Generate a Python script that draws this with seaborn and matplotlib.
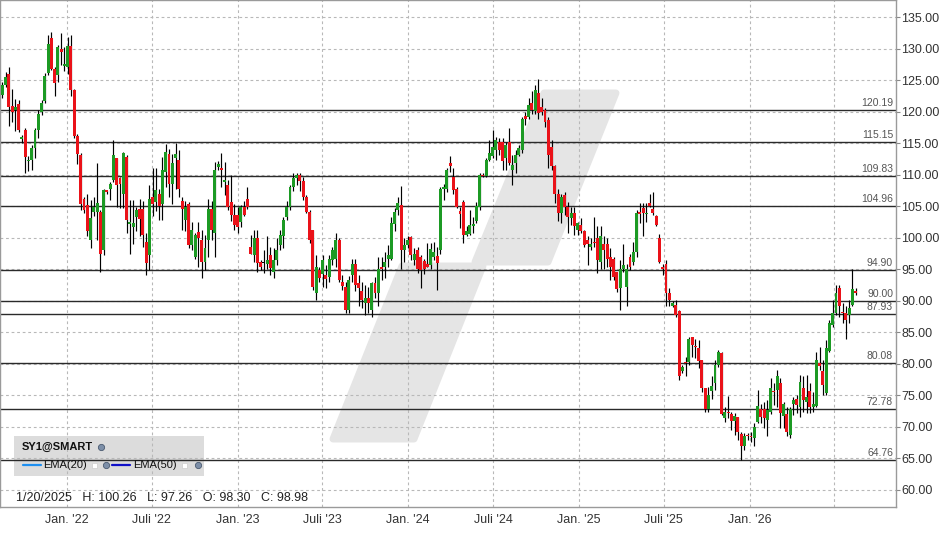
import numpy as np
import pandas as pd
import matplotlib
matplotlib.use("Agg")
import matplotlib.pyplot as plt
import matplotlib.dates as mdates
import matplotlib.transforms as mtransforms
from matplotlib.patches import Polygon, Rectangle
import seaborn as sns

# ---------------- data ----------------
start_date = "2021-08-15"   # first weekly candle

open_ = [122.7,124.2,125.9,120.9,120.2,121.2,115.7,117.1,112.2,112.4,
         114.2,117.1,120.0,121.7,126.1,131.7,126.8,125.8,130.0,127.2,
         127.1,130.4,123.4,116.2,113.1,106.2,105.2,99.6,104.1,104.1,
         104.1,98.1,107.4,107.7,109.2,112.6,109.4,107.0,112.8,102.1,
         101.7,103.3,104.6,104.6,99.4,97.3,106.5,105.6,107.0,105.4,
         110.4,113.2,108.6,112.6,112.3,105.9,102.8,105.4,98.8,97.0,
         100.9,99.6,96.2,99.6,104.6,100.7,111.2,111.0,108.8,108.3,
         105.7,103.6,103.6,102.5,104.9,106.2,98.6,97.3,99.9,96.2,
         96.0,95.8,97.3,94.6,96.5,98.8,100.2,103.3,104.9,108.1,
         109.5,109.9,109.0,106.5,104.1,
         101.2,91.3,94.9,94.3,94.1,93.8,96.5,96.7,99.6,93.0,
         92.2,88.6,94.1,95.9,92.8,91.6,89.7,90.4,88.5,92.9,
         91.2,95.4,95.4,96.7,96.7,102.2,104.4,105.2,98.0,98.9,
         100.1,96.5,98.1,97.0,96.3,95.9,95.7,97.0,97.1,
         98.1,107.7,107.8,111.8,109.6,107.8,104.3,105.7,100.4,100.6,
         101.9,102.6,104.9,109.9,109.8,112.3,112.9,113.9,115.2,115.2,
         112.6,115.2,110.7,111.8,113.1,113.9,119.3,119.2,121.3,120.1,
         122.9,120.7,120.2,118.7,114.4,111.3,107.0,
         103.9,106.8,104.9,103.1,103.9,101.2,102.0,101.0,99.6,98.5,
         99.3,99.9,96.2,99.0,99.0,96.9,96.7,94.5,92.1,95.1,
         92.2,97.0,96.2,97.8,104.1,104.7,103.8,105.5,104.5,103.4,
         99.9,95.4,95.8,91.2,89.1,89.3,
         88.4,78.8,80.3,80.3,84.2,82.8,82.5,80.6,76.1,72.8,
         75.7,77.0,79.8,81.7,71.4,72.3,72.0,71.0,71.5,68.9,
         67.0,68.6,68.5,68.2,70.8,72.8,72.8,71.1,72.4,75.7,
         75.9,77.0,
         71.7,72.0,68.7,73.7,74.4,73.2,76.1,74.0,75.7,73.2,
         73.3,80.1,78.8,75.3,82.0,86.2,88.0,92.0,88.2,88.0,
         87.8,89.3,91.4]

high = [124.7,126.3,127.0,123.6,122.0,121.8,116.3,117.4,113.0,114.7,
        117.4,120.3,121.8,126.1,132.1,132.6,127.1,130.5,132.4,130.3,
        131.9,132.1,123.6,116.5,113.5,106.4,107.0,106.0,106.5,111.8,
        104.4,107.7,107.6,108.9,115.5,112.7,109.7,113.6,113.1,106.0,
        106.0,104.9,106.2,105.9,100.7,108.3,111.0,111.0,107.8,112.8,
        114.9,114.1,113.3,115.0,113.9,106.4,105.9,105.7,102.5,100.7,
        102.5,101.2,100.4,106.2,105.9,112.0,112.2,113.4,112.0,109.1,
        110.0,105.4,104.9,105.2,105.9,108.1,100.4,101.2,101.2,96.5,
        98.1,100.2,98.6,98.3,100.0,101.3,103.3,105.9,108.3,110.2,
        110.3,110.3,109.6,106.8,104.4,
        101.2,97.3,95.4,97.3,95.7,97.3,98.6,100.7,99.9,94.1,
        93.0,93.9,96.7,96.7,94.1,93.0,92.5,92.2,93.0,93.8,
        97.0,97.0,97.8,98.8,103.3,104.7,106.5,108.2,99.9,100.2,
        100.3,98.3,98.6,97.3,96.7,99.1,99.1,99.4,98.6,
        108.1,108.6,111.0,113.0,111.0,108.1,104.8,106.0,101.8,104.4,
        103.3,105.7,110.2,110.2,112.6,115.5,117.1,116.0,115.8,115.8,
        115.2,117.4,113.1,113.9,114.7,119.2,120.0,122.1,123.2,124.2,
        125.1,122.1,120.5,119.2,115.5,111.5,107.8,
        107.0,107.3,105.7,104.9,104.8,102.5,103.1,101.2,100.2,99.9,
        103.3,101.8,101.8,100.2,99.9,98.3,97.0,94.6,96.5,99.0,
        95.9,97.5,99.4,104.4,105.5,105.5,105.5,107.0,107.3,103.6,
        100.6,95.9,96.5,92.0,89.9,90.1,
        88.5,79.8,81.1,84.3,84.3,84.0,83.8,80.6,76.1,76.4,
        78.1,80.6,82.2,81.9,73.2,74.9,72.4,72.2,71.6,69.2,
        69.0,69.0,69.2,70.6,75.9,73.7,74.0,74.3,77.7,76.9,
        79.0,77.7,
        74.0,73.2,73.2,74.8,75.1,78.2,78.0,78.2,76.9,75.6,
        81.9,82.6,80.6,83.8,86.9,90.1,92.5,92.5,89.6,89.1,
        90.1,95.0,92.1]

low = [122.1,123.9,117.7,118.4,117.0,116.8,115.0,110.3,110.6,110.8,
       112.7,115.8,119.5,121.3,125.8,126.6,122.4,124.7,127.4,126.5,
       126.0,122.5,115.8,111.7,104.4,103.9,100.2,98.3,103.5,99.6,
       94.6,97.3,107.0,106.0,108.9,104.9,104.7,104.7,100.7,97.5,
       99.0,101.1,100.2,98.6,94.1,94.9,103.4,104.3,102.8,102.8,
       108.1,106.5,105.4,107.8,106.5,101.2,101.0,98.3,98.0,96.7,
       95.4,93.6,94.9,96.9,99.6,96.9,110.7,108.1,106.7,104.4,
       102.6,101.2,100.7,101.7,103.4,104.6,97.5,96.2,94.6,94.9,
       94.4,95.0,94.1,93.6,95.7,98.0,98.3,102.8,104.4,107.4,
       108.3,107.4,106.0,103.9,99.1,
       91.7,90.1,93.0,92.2,92.0,93.0,95.7,95.4,93.0,91.7,
       88.0,88.0,93.0,91.5,89.1,88.8,87.7,88.0,87.5,90.4,
       89.1,93.3,93.6,95.4,96.5,101.0,103.6,95.1,96.2,98.3,
       96.5,95.7,94.4,92.0,94.3,95.3,95.1,96.5,91.7,
       97.5,106.0,107.3,110.5,107.0,104.7,101.5,99.1,100.2,100.4,
       100.7,102.3,104.4,109.6,109.7,112.1,112.6,112.3,113.1,110.7,
       110.7,111.5,108.4,110.2,112.9,113.4,117.9,118.9,119.7,119.7,
       118.9,119.5,117.6,111.0,110.7,105.5,102.6,
       102.3,103.6,100.7,102.0,100.4,100.4,100.7,98.6,95.7,98.0,
       98.6,94.4,95.1,95.1,95.4,93.3,93.3,91.4,88.5,94.6,
       89.1,94.9,95.7,97.0,102.3,100.2,102.5,104.8,103.6,101.8,
       96.0,94.1,89.1,89.1,89.0,87.5,
       77.4,78.5,78.0,79.8,81.1,80.9,79.3,75.6,72.4,72.3,
       74.4,75.9,79.5,71.9,70.8,71.4,69.5,68.7,67.9,64.7,
       66.3,67.9,67.6,66.9,70.6,70.6,69.9,68.5,72.1,73.5,
       73.2,69.8,
       69.8,68.5,68.2,71.9,72.2,71.6,72.4,72.2,72.2,72.4,
       73.2,79.0,75.1,75.1,81.9,85.9,87.8,87.5,86.4,84.0,
       86.4,89.1,90.9]

close = [124.2,125.5,120.7,120.0,120.8,117.1,116.0,112.8,112.4,114.2,
         117.1,119.6,121.3,125.6,130.8,126.8,124.5,130.3,129.5,127.6,
         130.4,123.4,116.2,113.2,105.4,104.4,101.0,103.1,104.9,105.5,
         97.5,107.6,107.3,108.6,113.1,108.4,108.6,113.5,102.8,102.5,
         102.4,104.4,103.0,100.4,96.0,106.2,105.4,107.5,105.0,110.8,
         113.6,108.6,111.9,113.3,107.8,104.6,104.9,98.8,101.2,100.4,
         99.9,96.2,98.3,104.6,101.2,110.7,111.7,110.8,109.1,104.9,
         103.6,102.0,101.7,104.9,103.6,104.9,97.5,99.9,96.0,95.4,
         96.0,96.4,95.2,96.5,98.0,100.4,102.8,104.9,108.1,109.5,
         110.0,109.0,106.5,104.1,99.6,
         92.2,95.4,93.6,96.4,93.5,96.7,98.0,99.6,93.3,92.3,
         88.6,93.3,95.8,92.5,92.1,90.1,90.4,89.7,92.8,91.2,
         95.0,95.0,96.2,97.3,102.3,104.1,105.5,98.0,98.9,99.6,
         97.3,97.4,95.1,94.9,95.0,95.3,98.2,97.8,96.0,
         107.8,108.0,110.7,111.3,107.6,104.9,103.7,100.4,101.0,102.0,
         102.2,105.0,110.0,109.8,112.3,113.4,114.4,115.5,113.9,112.1,
         114.7,111.9,111.5,113.1,114.3,118.9,118.8,121.0,120.3,123.5,
         119.8,120.0,118.4,113.1,111.3,107.0,103.9,
         106.5,104.9,103.3,104.0,101.8,102.3,101.0,98.9,99.0,99.0,
         99.1,96.5,100.2,98.0,96.7,95.4,93.8,91.8,95.1,95.7,
         95.1,95.4,97.8,103.9,103.8,103.9,104.0,105.0,103.9,102.0,
         96.2,95.0,91.2,90.1,89.6,87.7,
         78.1,79.5,80.1,83.9,83.0,82.6,80.4,76.1,72.8,75.1,
         76.5,79.8,81.9,72.0,72.4,72.2,71.0,71.7,69.2,66.9,
         68.5,68.5,68.4,70.0,73.3,71.5,71.4,72.7,76.1,75.5,
         78.0,72.2,
         73.7,69.2,72.9,74.3,73.5,77.2,74.2,74.8,73.2,73.7,
         80.6,79.7,76.6,82.5,86.4,88.0,91.2,89.1,88.1,86.9,
         88.8,91.8,91.3]

levels = [120.19, 115.15, 109.83, 104.96, 94.90, 90.00, 87.93, 80.08, 72.78, 64.76]
y_ticks = [60, 65, 70, 75, 80, 85, 90, 95, 100, 105, 110, 115, 120, 125, 130, 135]
x_tick_dates = ["2022-01-01", "2022-07-01", "2023-01-01", "2023-07-01", "2024-01-01",
                "2024-07-01", "2025-01-01", "2025-07-01", "2026-01-01", "2026-07-01"]
x_tick_labels = ["Jan. '22", "Juli '22", "Jan. '23", "Juli '23", "Jan. '24",
                 "Juli '24", "Jan. '25", "Juli '25", "Jan. '26", ""]
symbol = "SY1@SMART"
ema_labels = ["EMA(20)", "EMA(50)"]
ema_colors = ["#1e8ff0", "#1010c8"]
info_text = "1/20/2025   H: 100.26   L: 97.26   O: 98.30   C: 98.98"

GREEN = "#1c9a24"
RED = "#ea1219"

# ---------------- figure ----------------
sns.set_theme(style="white")
plt.rcParams['font.family'] = ['Liberation Sans', 'DejaVu Sans']

W, H = 948, 534
fig = plt.figure(figsize=(W / 100, H / 100), dpi=100)
AX_R, AX_B = 896, 507
ax = fig.add_axes([0, (H - AX_B) / H, AX_R / W, AX_B / H])
ax.set_facecolor("white")

df = pd.DataFrame({"date": pd.date_range(start_date, periods=len(close), freq="7D"),
                   "open": open_, "high": high, "low": low, "close": close})
x = mdates.date2num(df["date"])
o = df["open"].to_numpy(); c = df["close"].to_numpy()
colors = np.where(c > o, GREEN, np.where(c < o, RED, "black"))

x0 = x[0]
ax.set_xlim(x0 - 4.9, x0 + 1913.5)
ax.set_ylim(57.3, 137.7)

def px2ax(px, py):
    return (px / AX_R, 1 - py / AX_B)

# watermark
wm_color = "#e5e5e5"
upper = [px2ax(*p) for p in [(544, 93), (616, 93), (548, 262), (475, 262)]]
lower = [px2ax(*p) for p in [(402, 266), (483, 266), (414, 439), (333, 439)]]
for poly in (upper, lower):
    ax.add_patch(Polygon(poly, closed=True, transform=ax.transAxes, facecolor=wm_color,
                         edgecolor=wm_color, linewidth=5, joinstyle="round", zorder=0.3))

# legend box (beneath grid lines)
bx0, by0 = px2ax(14, 476)
bx1, by1 = px2ax(204, 436)
ax.add_patch(Rectangle((bx0, by0), bx1 - bx0, by1 - by0, transform=ax.transAxes,
                       facecolor="#dcdcdc", edgecolor="none", zorder=0.6))

# grid lines
for yt in y_ticks:
    ax.axhline(yt, color="#b8b8b8", lw=0.8, ls=(0, (2.5, 2.5)), zorder=1)
for d in x_tick_dates:
    ax.axvline(mdates.datestr2num(d), color="#b8b8b8", lw=0.8, ls=(0, (2.5, 2.5)), zorder=1)

# level lines + labels
lbl_tr = mtransforms.blended_transform_factory(ax.transAxes, ax.transData)
for lv in levels:
    ax.axhline(lv, color="#2a2a2a", lw=1.0, zorder=2)
    ax.text(893 / AX_R, lv + 0.35, f"{lv:.2f}", transform=lbl_tr, ha="right", va="bottom",
            fontsize=7.5, color="#555555", zorder=5)

# candles
ax.vlines(x, df["low"], df["high"], color="black", lw=0.85, zorder=3)
ax.bar(x, np.maximum(np.abs(c - o), 0.2), bottom=np.minimum(o, c), width=6.3,
       color=colors, linewidth=0, zorder=4)

# axes formatting
ax.yaxis.tick_right()
ax.set_yticks(y_ticks)
ax.set_yticklabels([f"{v:.2f}" for v in y_ticks])
ax.set_xticks([mdates.datestr2num(d) for d in x_tick_dates])
ax.set_xticklabels(x_tick_labels)
ax.tick_params(axis="y", which="both", right=True, left=False, length=3, width=0.8,
               color="#888888", labelsize=9, labelcolor="#333333", pad=1)
ax.tick_params(axis="x", which="both", bottom=False, length=0, labelsize=9,
               labelcolor="#333333", pad=5)
ax.grid(False)
for sp in ax.spines.values():
    sp.set_color("#9a9a9a")
    sp.set_linewidth(1.0)

# legend content
def fx(px): return px / W
def fy(py): return 1 - py / H

fig.text(fx(22), fy(447), symbol, fontsize=8, fontweight="bold", color="#111111",
         ha="left", va="center", zorder=10)
icon_pts = [(101, 447), (106, 465), (198, 465)]
for ix, iy in icon_pts:
    fig.add_artist(plt.Line2D([fx(ix)], [fy(iy)], marker="o", markersize=4.5,
                              markerfacecolor="#7d8fa8", markeredgecolor="#4a5a70",
                              markeredgewidth=0.6, transform=fig.transFigure, zorder=10))
line_segs = [(23, 41), (112, 130)]
text_x = [43, 133]
square_x = [92, 182]
for (l0, l1), tx, sx, lab, col in zip(line_segs, text_x, square_x, ema_labels, ema_colors):
    fig.add_artist(plt.Line2D([fx(l0), fx(l1)], [fy(465), fy(465)], color=col, lw=1.6,
                              transform=fig.transFigure, zorder=10))
    fig.text(fx(tx), fy(465), lab, fontsize=8, color="#111111", ha="left", va="center",
             zorder=10)
    fig.add_artist(Rectangle((fx(sx), fy(468)), 5 / W, 5 / H, transform=fig.transFigure,
                             facecolor="white", edgecolor="#cccccc", lw=0.5, zorder=10))

fig.text(fx(16), fy(498), info_text, fontsize=9, color="#222222", ha="left",
         va="center", zorder=10)

fig.savefig("out.png", dpi=100)
